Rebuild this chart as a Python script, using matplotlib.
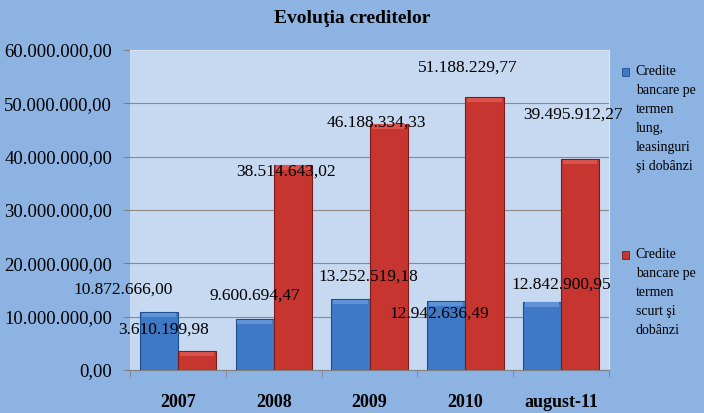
import matplotlib
matplotlib.use("Agg")
import matplotlib.pyplot as plt
import numpy as np
from matplotlib.patches import Rectangle
from matplotlib.ticker import FuncFormatter

categories = ["2007", "2008", "2009", "2010", "august-11"]
long_term = [10872666.00, 9600694.47, 13252519.18, 12942636.49, 12842900.95]
short_term = [3610199.98, 38514643.02, 46188334.33, 51188229.77, 39495912.27]
series_names = [
    "Credite\nbancare pe\ntermen\nlung,\nleasinguri\nşi dobânzi",
    "Credite\nbancare pe\ntermen\nscurt şi\ndobânzi",
]

# label offsets (points) relative to bar top centre, as Excel placed them
long_offsets = [(-26, 16), (0, 17), (13, 16), (-5, -9), (14, 12)]
short_offsets = [(-24, 15), (-5, -5), (-9, 1), (-12, 21), (-5, 32)]

BG = "#8DB3E2"
PLOT_BG = "#C6D9F1"
BLUE = "#3F78C4"
RED = "#C6352F"
FONT = "Liberation Serif"


def fmt_ro(value, decimals=2):
    s = f"{value:,.{decimals}f}"
    return s.replace(",", "X").replace(".", ",").replace("X", ".")


def main():
    fig = plt.figure(figsize=(7.04, 4.13), dpi=100, facecolor=BG)
    ax = fig.add_axes([0.185, 0.104, 0.68, 0.775])
    ax.set_facecolor(PLOT_BG)

    x = np.arange(len(categories))
    w = 0.4
    b1 = ax.bar(x - w / 2, long_term, w, color=BLUE, edgecolor="#1F4E8C", linewidth=0.8, zorder=3)
    b2 = ax.bar(x + w / 2, short_term, w, color=RED, edgecolor="#7A1C18", linewidth=0.8, zorder=3)

    # light bevel on bar tops
    for bars, light in ((b1, "#5F92D6"), (b2, "#DA524C")):
        for rect in bars:
            h = rect.get_height()
            bev = min(h * 0.5, 800000)
            ax.bar(rect.get_x() + rect.get_width() / 2, bev, rect.get_width() * 0.9,
                   bottom=h - bev - 150000, color=light, linewidth=0, zorder=4)

    for rect, val, off in zip(b1, long_term, long_offsets):
        ax.annotate(fmt_ro(val), (rect.get_x() + rect.get_width() / 2, val),
                    xytext=off, textcoords="offset points", ha="center", va="center",
                    fontsize=12.5, family=FONT, zorder=6)
    for rect, val, off in zip(b2, short_term, short_offsets):
        ax.annotate(fmt_ro(val), (rect.get_x() + rect.get_width() / 2, val),
                    xytext=off, textcoords="offset points", ha="center", va="center",
                    fontsize=12.5, family=FONT, zorder=6)

    ax.set_ylim(0, 60000000)
    ax.set_yticks(np.arange(0, 60000001, 10000000))
    ax.yaxis.set_major_formatter(FuncFormatter(lambda v, p: fmt_ro(v)))
    ax.set_xlim(-0.5, len(categories) - 0.5)
    ax.set_xticks(x)
    ax.set_xticklabels(categories, fontsize=13, fontweight="bold", family=FONT)
    ax.set_xticks(np.arange(-0.5, len(categories), 1), minor=True)
    ax.tick_params(axis="x", which="major", length=0, pad=17)
    ax.tick_params(axis="x", which="minor", length=5, color="#808080")
    ax.tick_params(axis="y", length=5, color="#808080", labelsize=13.5, pad=8)
    for lbl in ax.get_yticklabels():
        lbl.set_family(FONT)
    ax.yaxis.grid(True, color="#8A8A8A", linewidth=0.8, zorder=0)
    ax.set_axisbelow(True)
    for side in ("top", "right"):
        ax.spines[side].set_color("#DCE6F2")
    ax.spines["left"].set_visible(False)
    ax.spines["bottom"].set_color("#808080")

    fig.text(0.5, 0.955, "Evoluţia creditelor", ha="center", va="center",
             fontsize=14, fontweight="bold", family=FONT)

    # legend drawn by hand: marker aligned with the first text line
    for name, color, edge, ytop in ((series_names[0], BLUE, "#1F4E8C", 0.842),
                                    (series_names[1], RED, "#7A1C18", 0.4)):
        fig.patches.append(Rectangle((0.883, ytop - 0.026), 0.011, 0.019,
                                     transform=fig.transFigure, facecolor=color,
                                     edgecolor=edge, linewidth=0.6))
        fig.text(0.903, ytop, name, ha="left", va="top", fontsize=10,
                 family=FONT, linespacing=1.6)

    fig.savefig("out.png", dpi=100, facecolor=BG)


if __name__ == "__main__":
    main()
